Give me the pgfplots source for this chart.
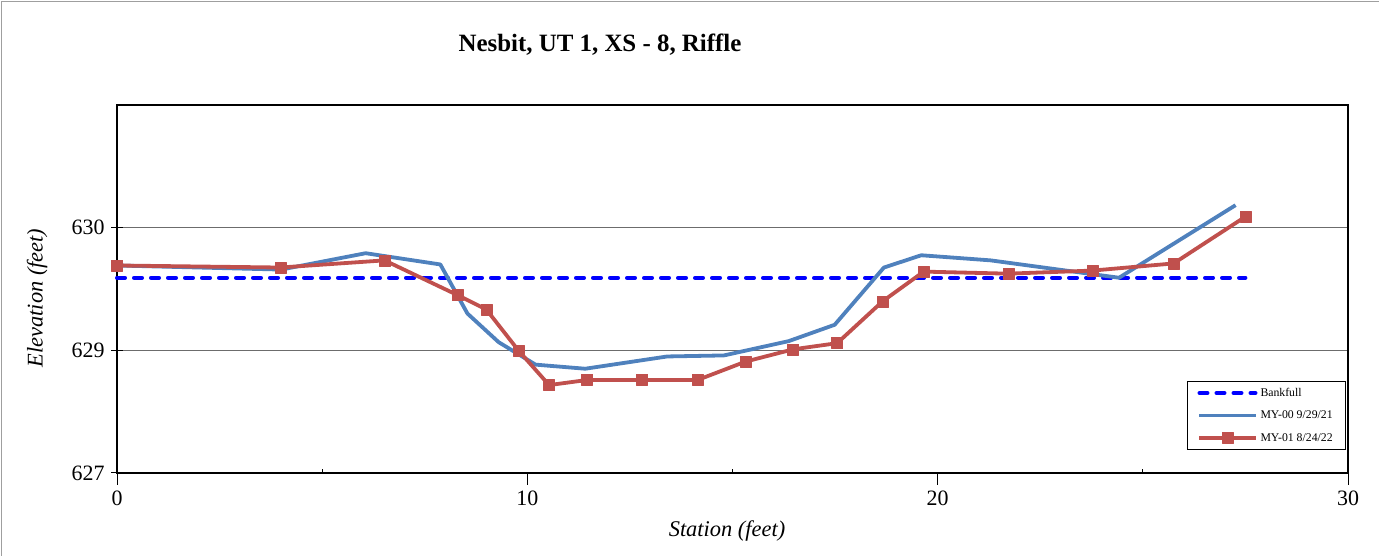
\documentclass[border=0pt]{standalone}
\usepackage{fontspec}
\setmainfont{Liberation Serif}
\usepackage{pgfplots}
\pgfplotsset{compat=1.18}
\usepackage{pgfplotstable}
\definecolor{myblue}{HTML}{4F81BD}
\definecolor{myred}{HTML}{C0504D}
\definecolor{bank}{HTML}{0000FF}

\pgfplotstableread{
x y
0 629.31
27.5 629.31
}\bankfull

\pgfplotstableread{
x y
0 629.43
4.0 629.39
6.06 629.55
7.88 629.44
8.54 628.96
9.3 628.68
10.2 628.46
11.41 628.42
13.41 628.54
14.79 628.55
16.37 628.69
17.49 628.85
18.69 629.41
19.60 629.53
21.29 629.48
24.42 629.31
27.26 630.02
}\myzero

\pgfplotstableread{
x y
0 629.43
3.98 629.41
6.52 629.48
8.30 629.14
9.0 629.00
9.78 628.60
10.53 628.26
11.46 628.31
12.80 628.31
14.15 628.31
15.32 628.49
16.48 628.61
17.55 628.67
18.66 629.08
19.66 629.37
21.72 629.35
23.77 629.38
25.75 629.45
27.51 629.91
}\myone

\begin{document}
\begin{tikzpicture}[x=1bp,y=1bp]
\useasboundingbox (0,0) rectangle (1379,556);
\draw[gray!75, line width=1.5bp] (1.5,0) -- (1.5,554.5) -- (1379,554.5);
\node[font=\fontsize{25}{30}\selectfont\bfseries, anchor=base] at (600,504) {Nesbit, UT 1, XS - 8, Riffle};
\node[font=\fontsize{22.5}{26}\selectfont\itshape, rotate=90, anchor=center] at (37,258) {Elevation (feet)};
\node[font=\fontsize{22.5}{26}\selectfont\itshape, anchor=base] at (727,19) {Station (feet)};
\begin{axis}[
  at={(117bp,83bp)}, anchor=south west,
  width=1231bp, height=368bp, scale only axis,
  xmin=0, xmax=30, ymin=627.4, ymax=631,
  xtick={0,10,20,30},
  xticklabels={0,10,20,30},
  ytick={627.4,628.6,629.8},
  yticklabels={627,629,630},
  extra x ticks={5,15,25},
  extra x tick labels={},
  extra x tick style={xtick align=inside, major tick length=4bp, grid=none},
  tick pos=left,
  xtick align=outside,
  ytick align=center,
  major tick length=12bp,
  every tick/.style={black, line width=1bp},
  axis line style={black, line width=2.5bp},
  ymajorgrids,
  major grid style={gray!85!black, line width=1.3bp},
  tick label style={font=\fontsize{22}{26}\selectfont},
  xticklabel style={yshift=-2bp},
  yticklabel style={xshift=-3bp},
  clip=false,
  legend cell align=left,
  legend image code/.code={\draw[mark repeat=2,mark phase=2,#1] plot coordinates {(0bp,0bp)(28bp,0bp)(56bp,0bp)};},
  legend style={at={(0.9985,0.0625)}, anchor=south east, draw=black, line width=1bp,
    font=\fontsize{11.8}{13}\selectfont, row sep=9bp, inner xsep=10bp, inner ysep=5bp,
    nodes={inner xsep=3bp}},
]
\addplot[bank, line width=4bp, dash pattern=on 8bp off 9bp, line cap=round] table {\bankfull};
\addlegendentry{Bankfull}
\addplot[myblue, line width=3.8bp, line join=round] table {\myzero};
\addlegendentry{MY-00 9/29/21}
\addplot[myred, line width=3.8bp, line join=round, mark=square*, mark size=5.5bp, mark options={solid, fill=myred, draw=myred, line width=0.5bp}] table {\myone};
\addlegendentry{MY-01 8/24/22}
\end{axis}
\end{tikzpicture}
\end{document}
